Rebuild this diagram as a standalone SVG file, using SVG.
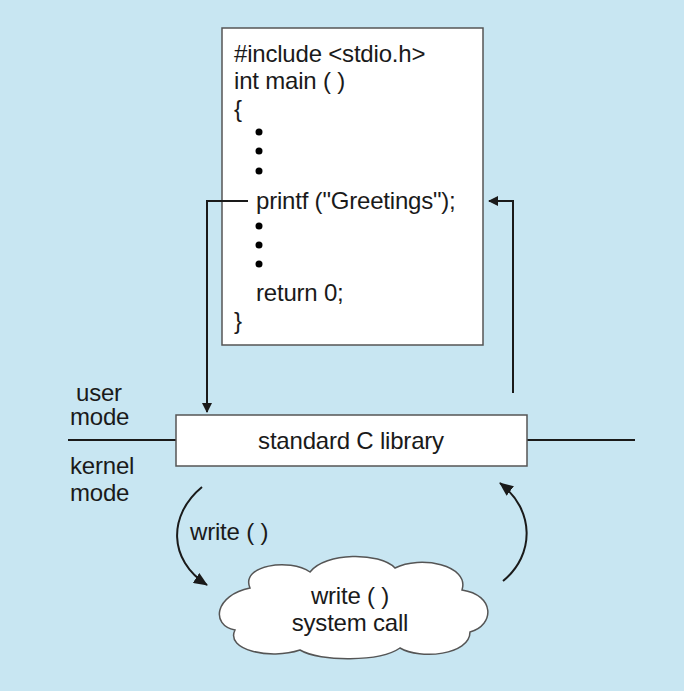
<svg xmlns="http://www.w3.org/2000/svg" width="684" height="691" viewBox="0 0 684 691">
<style>
text{font-family:"Liberation Sans",Arial,sans-serif;font-size:24px;fill:#1a1a1a;letter-spacing:-0.2px}
.box{fill:#fff;stroke:#555;stroke-width:1.5}
.ln{fill:none;stroke:#1a1a1a;stroke-width:2}
</style>
<defs>
<marker id="ah" markerWidth="10" markerHeight="10" refX="9" refY="5" orient="auto" markerUnits="userSpaceOnUse" viewBox="0 0 10 10">
<path d="M0,0 L10,5 L0,10 z" fill="#1a1a1a"/>
</marker>
<marker id="ah2" markerWidth="14" markerHeight="12" refX="13" refY="6" orient="auto" markerUnits="userSpaceOnUse" viewBox="0 0 14 12">
<path d="M0,0 L14,6 L0,12 z" fill="#1a1a1a"/>
</marker>
</defs>
<rect width="684" height="691" fill="#c8e6f2"/>
<g id="program">
<rect class="box" x="222" y="28" width="261" height="317"/>
<text x="234" y="62">#include &lt;stdio.h&gt;</text>
<text x="234" y="89">int main ( )</text>
<text x="234" y="117">{</text>
<circle cx="259" cy="132" r="3.5"/><circle cx="259" cy="151" r="3.5"/><circle cx="259" cy="171" r="3.5"/>
<text x="256" y="209">printf ("Greetings");</text>
<circle cx="259" cy="226" r="3.5"/><circle cx="259" cy="245" r="3.5"/><circle cx="259" cy="264" r="3.5"/>
<text x="256" y="301">return 0;</text>
<text x="234" y="329">}</text>
</g>
<g id="modes">
<line class="ln" x1="68" y1="440" x2="176" y2="440"/>
<line class="ln" x1="527" y1="440" x2="635" y2="440"/>
<text x="76" y="401">user</text>
<text x="70" y="425">mode</text>
<text x="70" y="474">kernel</text>
<text x="70" y="501">mode</text>
</g>
<g id="library">
<rect class="box" x="176" y="415" width="351" height="51"/>
<text x="351" y="449" text-anchor="middle">standard C library</text>
</g>
<g id="syscall">
<path class="box" d="M250,588 C240,565 290,558 310,572 C325,552 380,552 395,568 C420,555 470,565 462,590 C495,595 495,625 470,632 C470,655 420,660 400,648 C380,662 320,662 300,650 C270,660 225,650 235,630 C210,625 215,595 250,588 Z"/>
<text x="350" y="604" text-anchor="middle">write ( )</text>
<text x="350" y="631" text-anchor="middle">system call</text>
</g>
<g id="connectors">
<path class="ln" d="M248,201 H207 V412" marker-end="url(#ah)"/>
<path class="ln" d="M513,393 V201 H489" marker-end="url(#ah)"/>
<path class="ln" d="M202,487 C168,515 168,560 207,585" marker-end="url(#ah2)"/>
<path class="ln" d="M503,581 C535,555 535,510 500,483" marker-end="url(#ah2)"/>
<text x="190" y="540">write ( )</text>
</g>
</svg>
